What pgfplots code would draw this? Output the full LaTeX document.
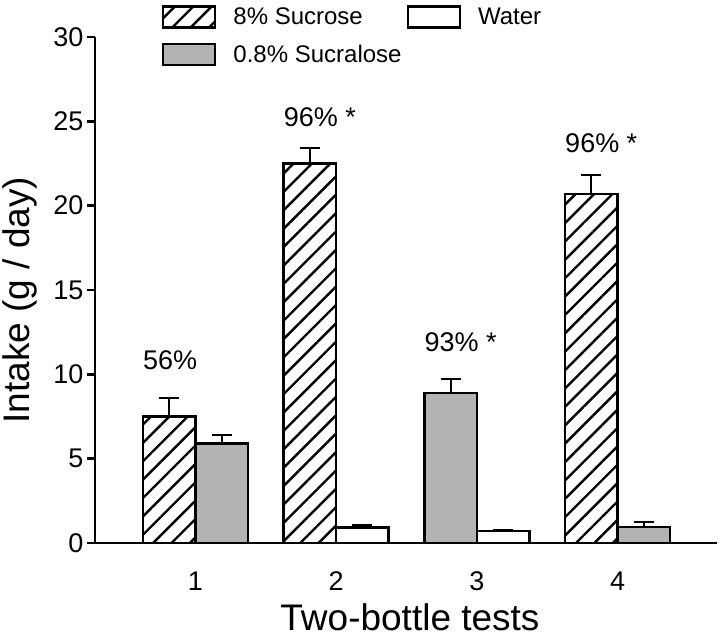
\documentclass[border=0pt]{standalone}
\usepackage{fontspec}
\setmainfont{Liberation Sans}
\usepackage{pgfplots}
\pgfplotsset{compat=1.18}
\usetikzlibrary{patterns.meta}
\definecolor{barGray}{RGB}{179,179,179}
\begin{document}
\begin{tikzpicture}
\begin{axis}[
  scale only axis, width=622bp, height=506bp,
  xmin=0.2856, xmax=4.707, ymin=0, ymax=30,
  axis x line=bottom, axis y line=left,
  axis line style={line width=2.5bp, -},
  xtick={1,2,3,4}, ytick={0,5,...,30},
  tick align=outside, major tick length=8bp,
  tick style={line width=2.5bp, black},
  x tick style={draw=none},
  /pgf/number format/assume math mode=true,
  tick label style={font=\fontsize{27bp}{30bp}\selectfont},
  x tick label style={yshift=-17bp},
  xlabel={Two-bottle tests}, ylabel={Intake (g / day)},
  label style={font=\fontsize{37bp}{42bp}\selectfont, inner sep=0pt},
  xlabel style={at={(axis description cs:0.5064,-0.172)}, anchor=base},
  ylabel style={at={(axis description cs:-0.1206,0.48)}, anchor=center},
  ybar, bar width=0.373, bar shift=0pt,
  clip=false,
  legend columns=2, transpose legend,
  legend cell align=left,
  legend image code/.code={\draw[#1, line width=2.5bp] (0bp,-10.5bp) rectangle (52bp,10.5bp);},
  legend style={at={(axis description cs:0.1077,1.063)}, anchor=north west,
    draw=none, fill=none, inner sep=0pt, outer sep=0pt,
    font=\fontsize{24bp}{28bp}\selectfont,
    row sep=14bp,
    /tikz/every odd column/.append style={column sep=15bp},
    /tikz/every even column/.append style={column sep=3bp}},
  error bars/y dir=plus, error bars/y explicit,
  error bars/error bar style={line width=2bp, black},
  error bars/error mark options={rotate=90, mark size=10bp, line width=2bp, black},
]
\addplot[draw=black, line width=2.5bp, fill=white, pattern={Lines[angle=45, distance=13bp, line width=2.4bp]}]
  table[x=x, y=y, y error=e] {
  x y e
  0.8134 7.5 1.1
  1.8134 22.5 0.9
  3.8134 20.7 1.1
};
\addlegendentry{8\% Sucrose}
\addplot[draw=black, line width=2.5bp, fill=barGray]
  table[x=x, y=y, y error=e] {
  x y e
  1.1866 5.9 0.5
  2.8134 8.9 0.85
  4.1866 0.95 0.32
};
\addlegendentry{0.8\% Sucralose}
\addplot[draw=black, line width=2.5bp, fill=white]
  table[x=x, y=y, y error=e] {
  x y e
  2.1866 0.93 0.15
  3.1866 0.7 0.09
};
\addlegendentry{Water}
\node[anchor=west, inner sep=0pt, font=\fontsize{27bp}{30bp}\selectfont] at (axis cs:0.6268,10.85) {56\%};
\node[anchor=west, inner sep=0pt, font=\fontsize{27bp}{30bp}\selectfont] at (axis cs:1.6268,25.25) {96\% *};
\node[anchor=west, inner sep=0pt, font=\fontsize{27bp}{30bp}\selectfont] at (axis cs:2.6268,11.9) {93\% *};
\node[anchor=west, inner sep=0pt, font=\fontsize{27bp}{30bp}\selectfont] at (axis cs:3.6268,23.7) {96\% *};
\path (rel axis cs:0,0) ++(-95bp,-98bp) rectangle ++(720bp,641bp);
\end{axis}
\end{tikzpicture}
\end{document}
